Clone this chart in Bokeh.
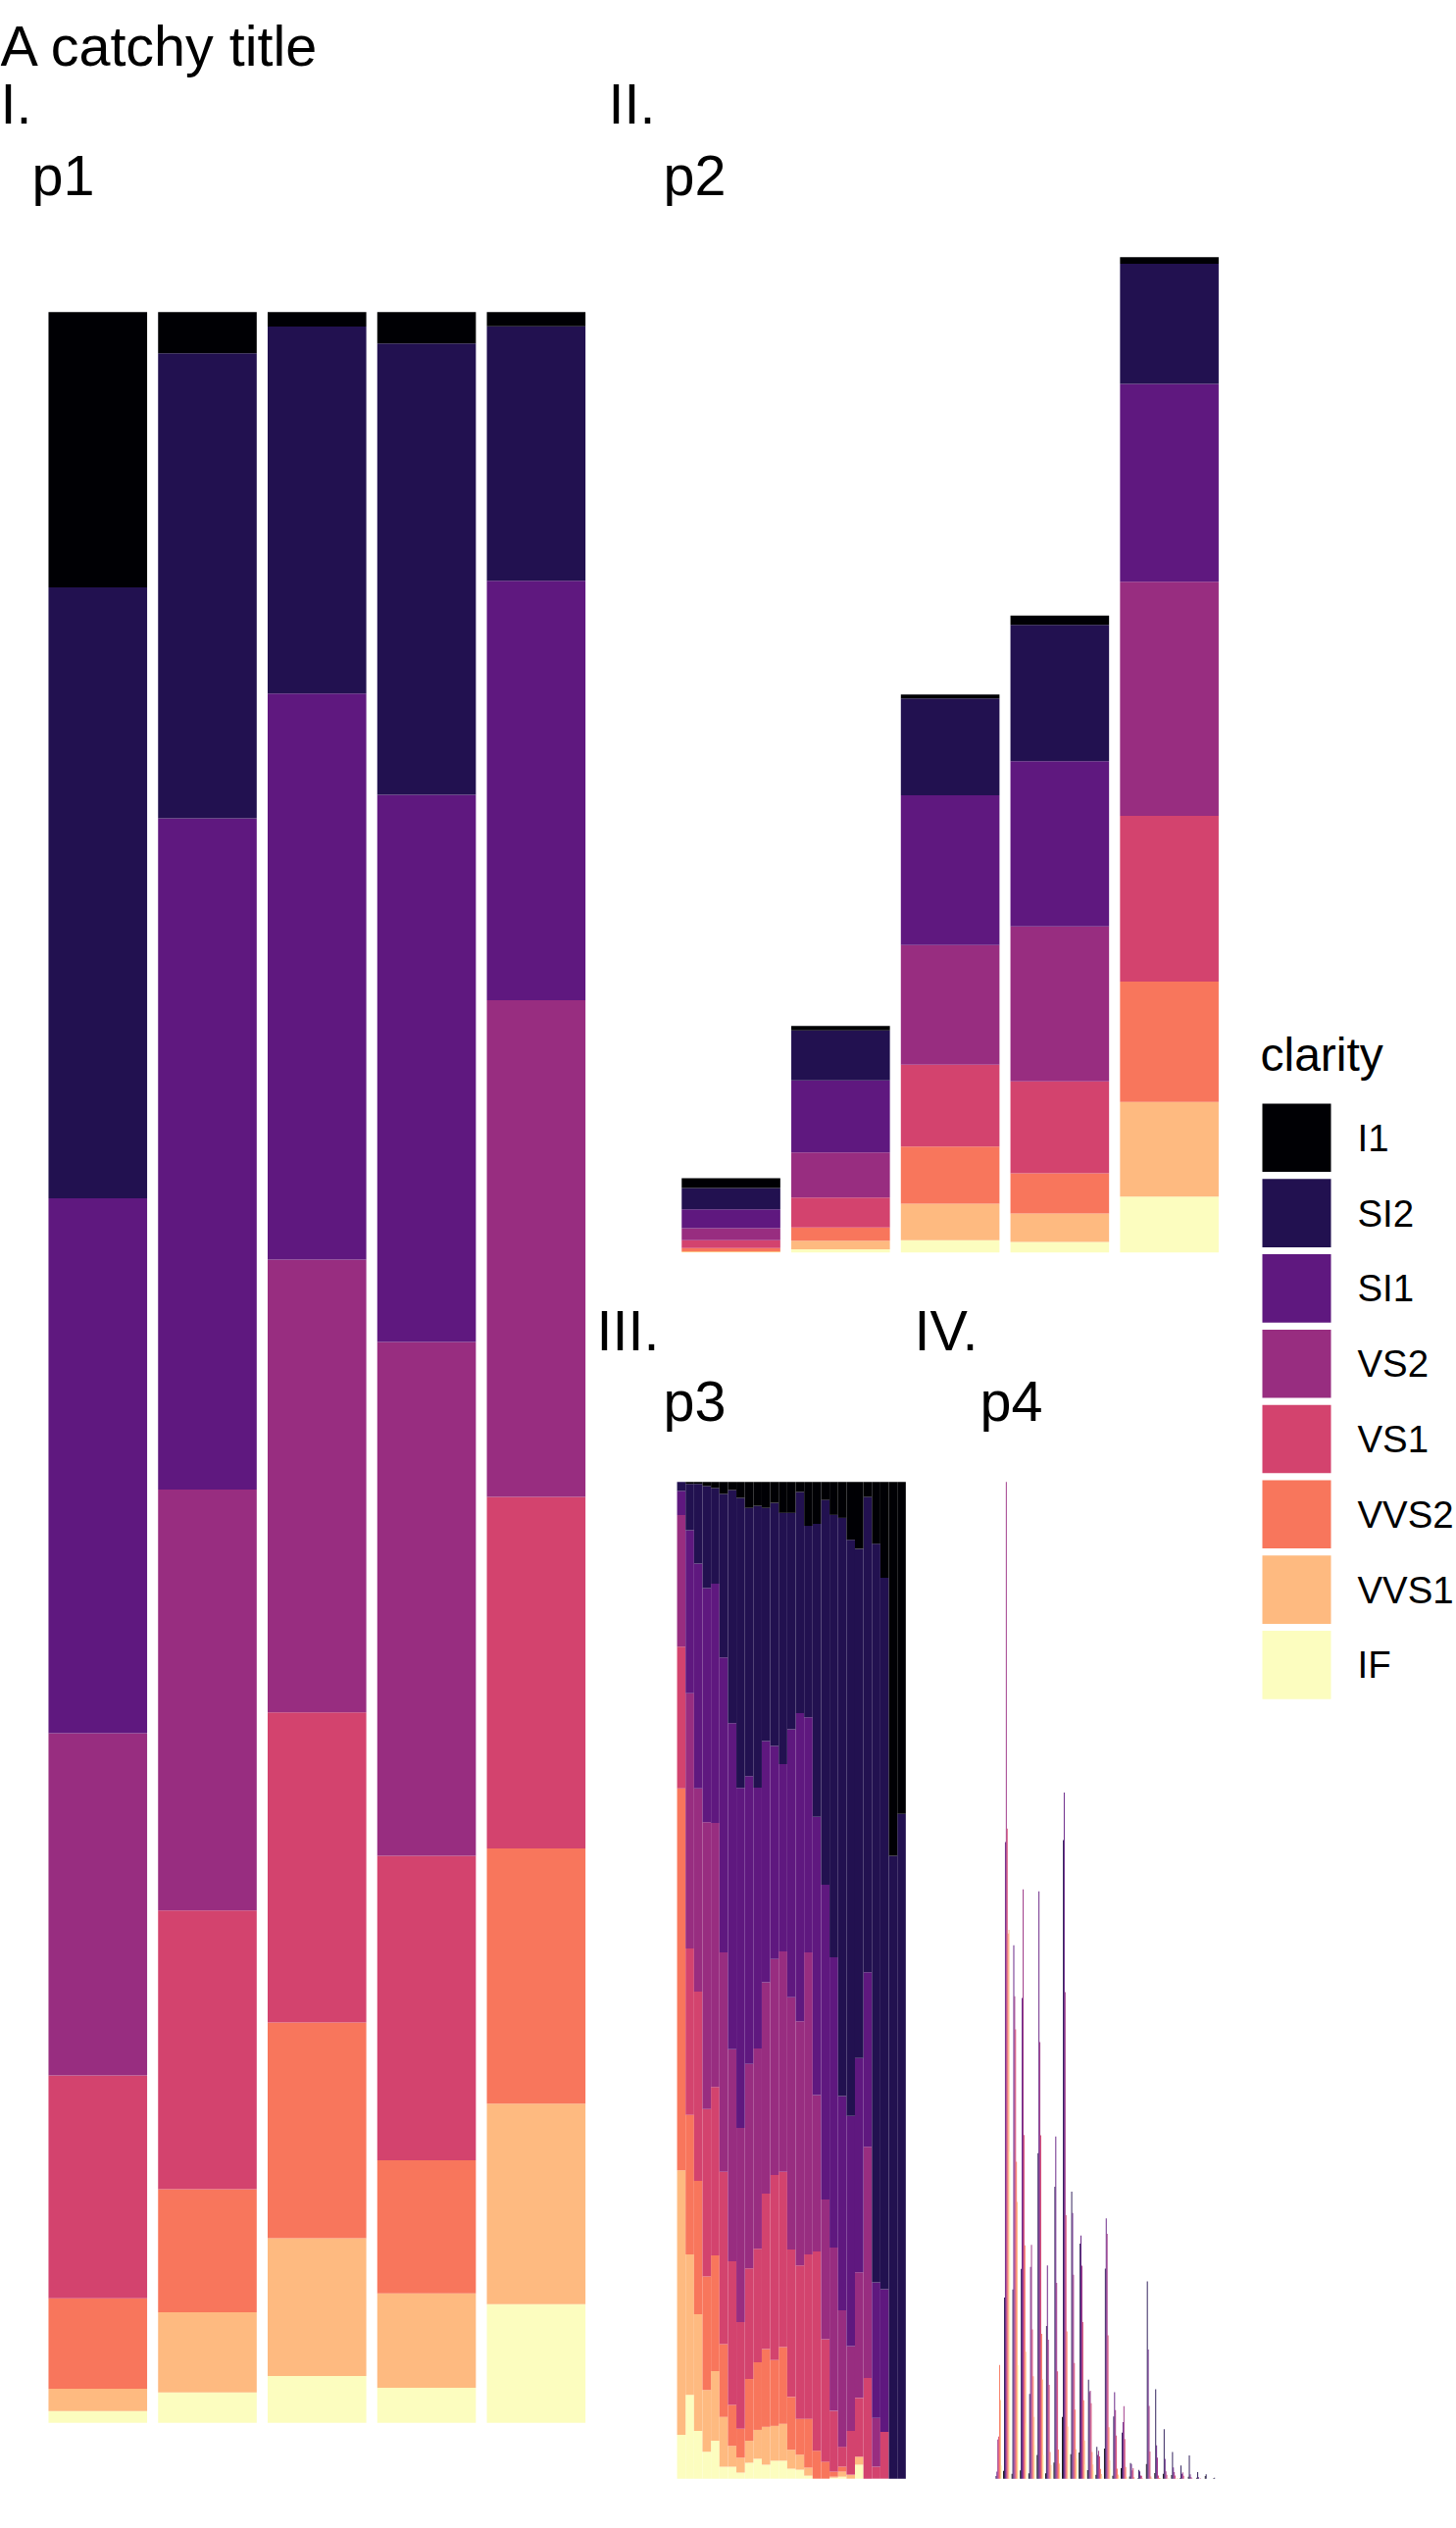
import numpy as np
from bokeh.plotting import figure
from bokeh.layouts import row, column
from bokeh.models import Range1d, ColumnDataSource
from bokeh.core.properties import value
from bokeh.embed import file_html
from bokeh.resources import INLINE

# ---------------- data ----------------
cuts = ["Fair", "Good", "Very Good", "Premium", "Ideal"]
clarity = ["I1", "SI2", "SI1", "VS2", "VS1", "VVS2", "VVS1", "IF"]
colors = ["#000004", "#221150", "#5F187F", "#982D80", "#D3436E", "#F8765C", "#FEBA80", "#FCFDBF"]

# counts of diamonds per cut (Fair, Good, Very Good, Premium, Ideal) for each clarity
cut_I1 = [210, 96, 84, 205, 146]
cut_SI2 = [466, 1081, 2100, 2949, 2598]
cut_SI1 = [408, 1560, 3240, 3575, 4282]
cut_VS2 = [261, 978, 2591, 3357, 5071]
cut_VS1 = [170, 648, 1775, 1989, 3589]
cut_VVS2 = [69, 286, 1235, 870, 2606]
cut_VVS1 = [17, 186, 789, 616, 2047]
cut_IF = [9, 71, 268, 230, 1212]

# carat bins (left edges, width 0.1)
carat_bins = [0.2, 0.3, 0.4, 0.5, 0.6, 0.7, 0.8, 0.9, 1.0, 1.1, 1.2, 1.3, 1.4, 1.5,
              1.6, 1.7, 1.8, 1.9, 2.0, 2.1, 2.2, 2.3, 2.4, 2.5, 2.6, 2.7, 2.8]
bin_width = 0.1
# number of diamonds per carat bin (read from p4)
bin_total = [785, 10300, 6260, 5415, 2335, 5250, 1726, 2655, 6280, 2686, 2657, 1074, 333,
             2561, 741, 634, 140, 60, 1175, 408, 226, 138, 73, 83, 24, 18, 4]
# clarity share (%) within each carat bin (read from p3)
share_I1 = [0, 0.2, 0.2, 0.4, 0.6, 1.2, 0.8, 1.6, 2.6, 2.4, 2.6, 2.1, 3.1, 3.1, 1.0, 4.4, 4.2,
            1.8, 3.3, 3.6, 5.8, 6.7, 1.5, 6.2, 9.6, 37.5, 33.3]
share_SI2 = [0.9, 4.65, 8.0, 10.25, 9.6, 16.4, 23.4, 29.1, 26.9, 28.3, 23.4, 24.4, 25.2, 21.7,
             22.2, 19.2, 29.4, 38.6, 44.4, 58.0, 57.8, 51.1, 47.7, 74.1, 71.4, 62.5, 66.7]
share_SI1 = [2.4, 16.35, 22.55, 23.5, 24.0, 29.6, 32.7, 34.1, 28.9, 26.2, 24.2, 21.4, 18.8, 26.9,
             30.9, 23.6, 27.9, 31.6, 29.1, 21.5, 23.1, 21.5, 17.5, 13.6, 14.3, 0, 0]
share_VS2 = [13.2, 25.6, 20.4, 28.8, 26.5, 22.0, 21.3, 19.5, 20.5, 20.1, 21.2, 21.7, 22.1, 25.3,
             24.5, 30.3, 15.7, 14.0, 16.4, 13.7, 8.5, 12.6, 23.2, 4.9, 0, 0, 0]
share_VS1 = [14.2, 16.7, 19.0, 16.8, 16.9, 17.3, 14.4, 10.7, 11.1, 11.4, 15.6, 18.6, 17.6, 14.8,
             15.4, 16.5, 20.0, 12.3, 6.1, 2.0, 4.4, 5.9, 10.1, 1.2, 4.7, 0, 0]
share_VVS2 = [38.3, 14.0, 13.4, 11.4, 11.6, 7.3, 4.1, 2.9, 6.2, 6.8, 7.8, 6.6, 7.7, 5.3, 3.6, 4.9,
              2.8, 1.7, 0.5, 0.5, 0, 0, 0, 0, 0, 0, 0]
share_VVS1 = [26.5, 14.1, 11.7, 6.2, 7.0, 5.0, 2.1, 1.5, 2.2, 2.9, 3.8, 3.5, 3.7, 1.9, 1.5, 0.8,
              0, 0, 0.1, 0.5, 0.4, 0.8, 0, 0, 0, 0, 0]
share_IF = [4.4, 8.4, 4.8, 2.7, 3.8, 1.2, 1.2, 0.6, 1.6, 2.0, 1.4, 1.8, 1.8, 1.0, 0.9, 0.3, 0, 0,
            0.1, 0.2, 0, 1.4, 0, 0, 0, 0, 0]

title_text = "A catchy title"
tags = ["I.", "II.", "III.", "IV."]
subtitles = ["p1", "p2", "p3", "p4"]

FONT = value("Liberation Sans")
BIG = value("57.5px")
SHIFT = 20  # baseline correction for the big texts

cut_counts = np.array([cut_I1, cut_SI2, cut_SI1, cut_VS2, cut_VS1, cut_VVS2, cut_VVS1, cut_IF], float)
shares = np.array([share_I1, share_SI2, share_SI1, share_VS2, share_VS1, share_VVS2, share_VVS1, share_IF], float)
bin_counts = shares / shares.sum(axis=0) * np.array(bin_total, float)


def ext_range(d0, d1, px0, px1, fig0, fig1):
    """x: data d0..d1 lands on page pixels px0..px1 in a canvas spanning fig0..fig1."""
    s = (px1 - px0) / (d1 - d0)
    return Range1d(d0 - (px0 - fig0) / s, d1 + (fig1 - px1) / s)


def ext_range_y(d0, d1, px_bottom, px_top, fig_bottom, fig_top):
    """y: data d0 at page pixel px_bottom, d1 at px_top; canvas spans fig_top..fig_bottom."""
    s = (px_bottom - px_top) / (d1 - d0)
    return Range1d(d0 + (px_bottom - fig_bottom) / s, d1 + (px_top - fig_top) / s)


def base_fig(w, h, xr, yr):
    f = figure(width=w, height=h, x_range=xr, y_range=yr, output_backend="svg",
               toolbar_location=None, x_axis_location=None, y_axis_location=None,
               min_border=0, min_border_left=0, min_border_right=0,
               min_border_top=0, min_border_bottom=0)
    f.outline_line_color = None
    f.background_fill_color = "white"
    f.border_fill_color = "white"
    for g in f.grid:
        g.visible = False
    return f


def stacked_quads(lefts, rights, mat):
    # mat: (8 clarity, n groups); stack IF at bottom, I1 on top
    L, R, B, T, C = [], [], [], [], []
    cum = np.zeros(mat.shape[1])
    for k in range(len(clarity) - 1, -1, -1):
        for i in range(mat.shape[1]):
            if mat[k, i] > 0:
                L.append(lefts[i]); R.append(rights[i])
                B.append(cum[i]); T.append(cum[i] + mat[k, i]); C.append(colors[k])
        cum = cum + mat[k]
    return ColumnDataSource(dict(left=L, right=R, bottom=B, top=T, color=C))


# ---------------- header ----------------
hdr = base_fig(1485, 210, Range1d(0, 1485), Range1d(210, 0))
hdr.text(x=[0, 0, 620, 32, 676],
         y=[66.7 - SHIFT, 125 - SHIFT, 125 - SHIFT, 198 - SHIFT, 198 - SHIFT],
         text=[title_text, tags[0], tags[1], subtitles[0], subtitles[1]],
         text_font=FONT, text_font_size=BIG, text_color="black",
         text_baseline="alphabetic", text_align="left")

# ---------------- p1: proportions per cut ----------------
xc = np.arange(1, len(cuts) + 1)
ncut = len(cuts)
p1 = base_fig(600, 2368, ext_range(0.4, ncut + 0.6, 32.2, 613.4, 0, 600), Range1d(-0.05, 1.05))
prop = cut_counts / cut_counts.sum(axis=0)
p1.quad(left="left", right="right", bottom="bottom", top="top", fill_color="color",
        line_color=None, source=stacked_quads(xc - 0.45, xc + 0.45, prop))

# ---------------- p2: counts per cut ----------------
ymax2 = cut_counts.sum(axis=0).max()
p2 = base_fig(670, 1080, ext_range(0.4, ncut + 0.6, 678, 1259.2, 600, 1270),
              ext_range_y(-0.05 * ymax2, 1.05 * ymax2, 1327.6, 210.9, 1290, 210))
p2.quad(left="left", right="right", bottom="bottom", top="top", fill_color="color",
        line_color=None, source=stacked_quads(xc - 0.45, xc + 0.45, cut_counts))

# ---------------- tags for p3 / p4 ----------------
mid = base_fig(670, 170, Range1d(0, 670), Range1d(170, 0))
mid.text(x=[8, 332, 76, 399], y=[86 - SHIFT, 86 - SHIFT, 158 - SHIFT, 158 - SHIFT],
         text=[tags[2], tags[3], subtitles[2], subtitles[3]],
         text_font=FONT, text_font_size=BIG, text_color="black",
         text_baseline="alphabetic", text_align="left")

# ---------------- p3: proportions per carat bin ----------------
cb = np.array(carat_bins)
lo, hi = cb[0], cb[-1] + bin_width
pad = 0.05 * (hi - lo)
p3 = base_fig(369, 1118, ext_range(lo - pad, hi + pad, 678.4, 935, 600, 969), Range1d(-0.05, 1.05))
bprop = bin_counts / bin_counts.sum(axis=0)
p3.quad(left="left", right="right", bottom="bottom", top="top", fill_color="color",
        line_color=None, source=stacked_quads(cb, cb + bin_width, bprop))

# ---------------- p4: dodged counts per carat bin ----------------
ymax4 = bin_counts.max()
p4 = base_fig(301, 1118, ext_range(lo - pad, hi + pad, 1002.5, 1257, 969, 1270),
              Range1d(-0.05 * ymax4, 1.05 * ymax4))
dw = 0.85 * bin_width / len(clarity)
L, R, T, C = [], [], [], []
for k in range(len(clarity)):
    for i in range(len(cb)):
        if bin_counts[k, i] > 0:
            L.append(cb[i] + k * dw); R.append(cb[i] + (k + 1) * dw)
            T.append(bin_counts[k, i]); C.append(colors[k])
p4.quad(left="left", right="right", bottom=0, top="top", fill_color="color", line_color=None,
        source=ColumnDataSource(dict(left=L, right=R, top=T, color=C)))

# ---------------- legend ----------------
leg = base_fig(215, 2368, Range1d(0, 215), Range1d(2368, 0))
ki = np.arange(len(clarity))
key_top = 915 + 76.8 * ki
leg.quad(left=17, right=87, top=key_top, bottom=key_top + 69.6, fill_color=colors, line_color=None)
leg.text(x=[15], y=[879 - 14], text=["clarity"], text_font=FONT, text_font_size=value("48px"),
         text_color="black", text_baseline="alphabetic", text_align="left")
leg.text(x=[114] * len(clarity), y=list(key_top + 34.8), text=clarity, text_font=FONT,
         text_font_size=value("38.4px"), text_color="black", text_baseline="middle",
         text_align="left")

layout = column(hdr,
                row(p1,
                    column(p2, mid, row(p3, p4, spacing=0), spacing=0),
                    leg, spacing=0),
                spacing=0)

open("out.html", "w").write(file_html(layout, INLINE))
